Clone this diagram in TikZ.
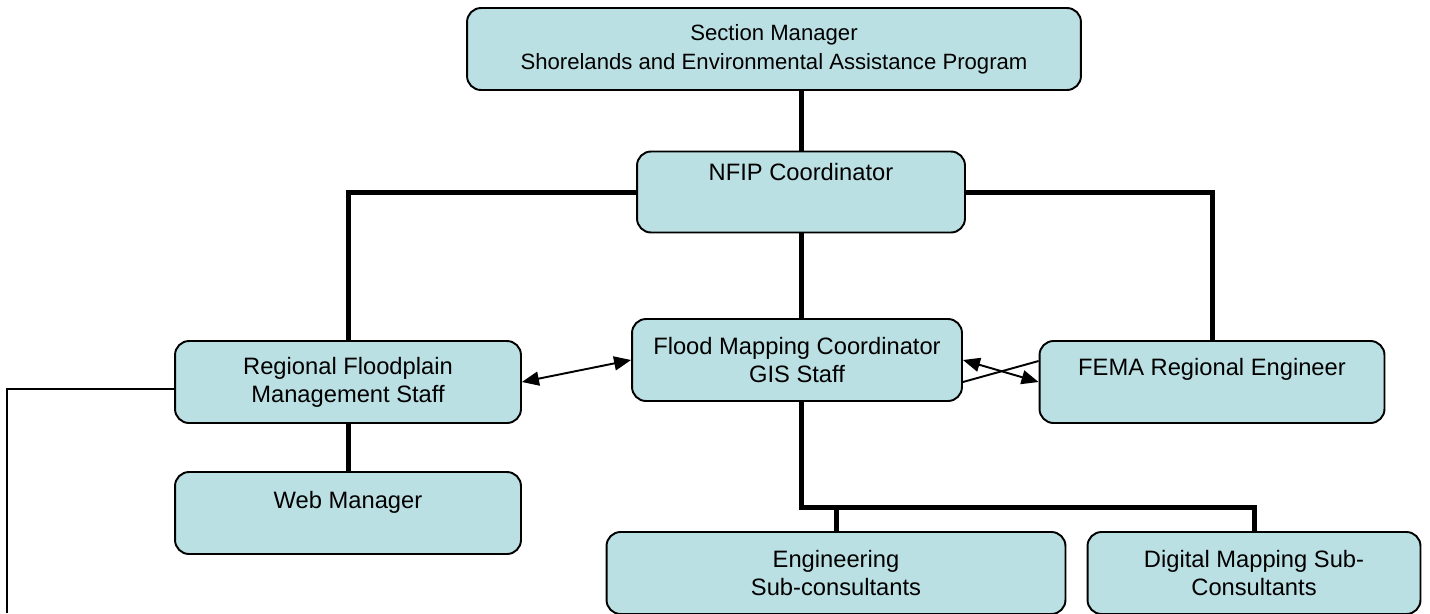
\documentclass[tikz,border=0pt]{standalone}
\usepackage{fontspec}
\setmainfont{Liberation Sans}
\usetikzlibrary{arrows.meta}
\definecolor{boxfill}{RGB}{187,224,227}

\tikzset{every picture/.style={line width=1.1pt}}

\begin{document}
\begin{tikzpicture}[
    x=0.02cm, y=-0.02cm,
    every node/.style={font=\fontsize{13.5}{15.9}\selectfont, align=center},
    box/.style={draw, fill=boxfill, rounded corners=0.28cm, minimum height=1.64cm},
    trunk/.style={line width=2.85pt},
    thinline/.style={line width=0.75pt},
    link/.style={line width=1.1pt, {Triangle[length=0.34cm,width=0.28cm]}-{Triangle[length=0.34cm,width=0.28cm]}},
]
    \useasboundingbox (0,0) rectangle (1430,613);

    \node[box, minimum width=12.28cm, font=\fontsize{12.6}{16.4}\selectfont] (sect) at (774,49) {Section Manager\\Shorelands and Environmental Assistance Program};
    \node[box, minimum width=6.56cm, minimum height=1.62cm, text depth=0.79cm] (nfip) at (801,192) {NFIP Coordinator};

    \node[box, minimum width=6.92cm] (regional) at (348,382) {Regional Floodplain\\Management Staff};
    \node[box, minimum width=6.6cm] (flood) at (797,360) {Flood Mapping Coordinator\\GIS Staff};
    \node[box, minimum width=6.9cm, text depth=0.61cm] (fema) at (1212,382) {FEMA Regional Engineer};

    \node[box, minimum width=6.92cm, text depth=0.53cm] (web) at (348,513) {Web Manager};
    \node[box, minimum width=9.18cm] (eng) at (836,573) {Engineering\\Sub-consultants};
    \node[box, minimum width=6.66cm] (digital) at (1254,573) {Digital Mapping Sub-\\Consultants};

    \coordinate (bus) at (801,507);
    \coordinate (lowleft) at (7,613);

    \draw[trunk] (nfip.north) -- (nfip.north |- sect.south);
    \draw[trunk] (nfip.west) -| (regional.north);
    \draw[trunk] (nfip.east) -| (fema.north);
    \draw[trunk] (nfip.south) -- (nfip.south |- flood.north);
    \draw[trunk] (regional.south) -- (web.north);
    \draw[trunk] (bus |- flood.south) -- (bus) -| (digital.north);
    \draw[trunk] (bus -| eng.north) -- (eng.north);

    \draw[thinline] ([yshift=-0.14cm]regional.west) -| (lowleft);

    \draw[link] (regional.east) -- (flood.west);
    \draw[link] (flood.east) -- (fema.west);
    \draw[thinline, line width=1.1pt] ([yshift=-0.44cm]flood.east) -- ([yshift=0.42cm]fema.west);
\end{tikzpicture}
\end{document}
